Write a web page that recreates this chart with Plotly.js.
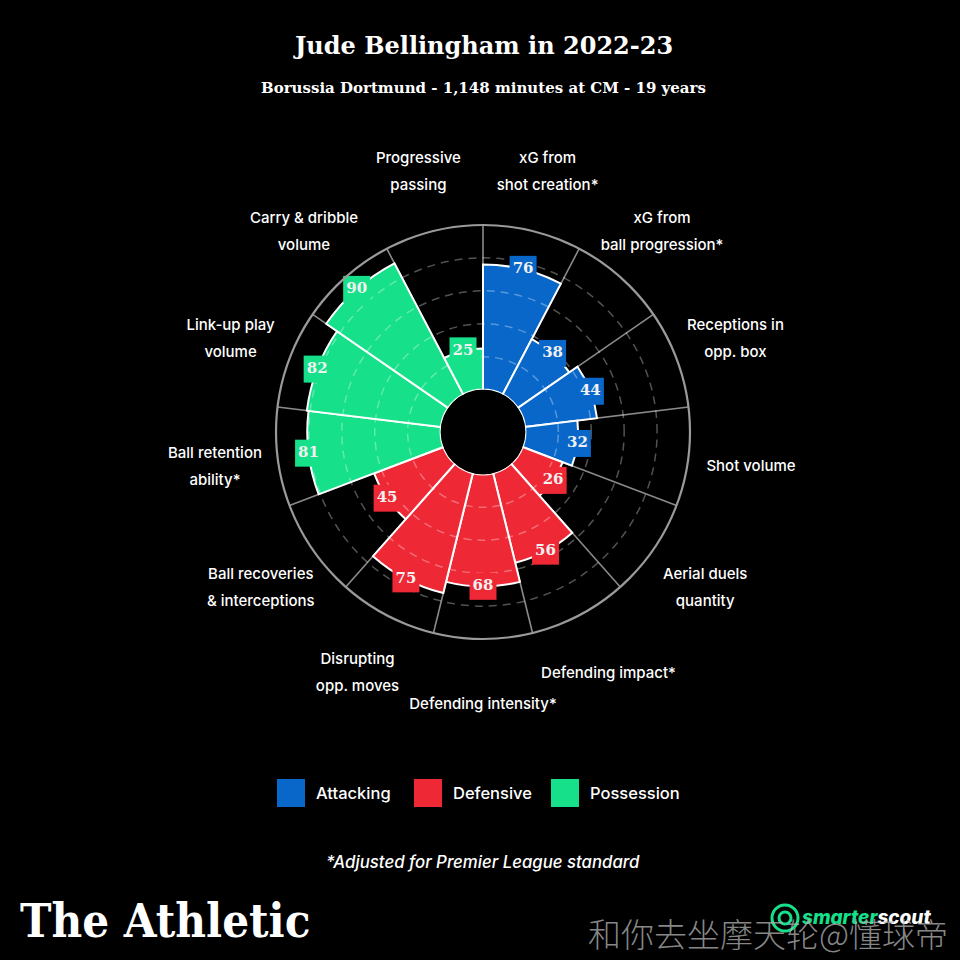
<!DOCTYPE html>
<html>
<head>
<meta charset="utf-8">
<script src="https://cdn.plot.ly/plotly-3.0.1.min.js"></script>
<style>
html,body{margin:0;padding:0;background:#000;}
#chart{width:960px;height:960px;}
</style>
</head>
<body>
<div id="chart"></div>
<script>
// ---------- data ----------
const categories = [
  "xG from shot creation*", "xG from ball progression*", "Receptions in opp. box",
  "Shot volume", "Aerial duels quantity", "Defending impact*", "Defending intensity*",
  "Disrupting opp. moves", "Ball recoveries & interceptions", "Ball retention ability*",
  "Link-up play volume", "Carry & dribble volume", "Progressive passing"
];
const labelLine1 = [
  "xG from", "xG from", "Receptions in", "Shot volume", "Aerial duels", "Defending impact*",
  "Defending intensity*", "Disrupting", "Ball recoveries", "Ball retention",
  "Link-up play", "Carry & dribble", "Progressive"
];
const labelLine2 = [
  "shot creation*", "ball progression*", "opp. box", "", "quantity", "",
  "", "opp. moves", "& interceptions", "ability*",
  "volume", "volume", "passing"
];
const values = [76, 38, 44, 32, 26, 56, 68, 75, 45, 81, 82, 90, 25];
const groups = [
  "Attacking", "Attacking", "Attacking", "Attacking",
  "Defensive", "Defensive", "Defensive", "Defensive", "Defensive",
  "Possession", "Possession", "Possession", "Possession"
];
const groupNames = ["Attacking", "Defensive", "Possession"];
const groupColors = ["#0867c9", "#ef2836", "#16e08a"];
const gridLevels = [20, 40, 60, 80];

// ---------- derived ----------
const n = categories.length;
const step = 360 / n;
const centers = categories.map((c, i) => (i + 0.5) * step);
const boundaries = categories.map((c, i) => i * step);
const colorOf = g => groupColors[groupNames.indexOf(g)];

const traces = [];
groupNames.forEach((g, gi) => {
  const idx = values.map((v, i) => i).filter(i => groups[i] === g);
  traces.push({
    type: "barpolar",
    subplot: "polar",
    name: g,
    r: idx.map(i => values[i]),
    theta: idx.map(i => centers[i]),
    width: idx.map(() => step),
    base: idx.map(() => 0),
    marker: { color: groupColors[gi], line: { color: "#ffffff", width: 2 } },
    hoverinfo: "skip",
    showlegend: false
  });
});

// value labels
traces.push({
  type: "scatterpolar",
  subplot: "polar2",
  mode: "markers+text",
  r: values,
  theta: centers,
  text: values.map(String),
  textposition: "middle center",
  textfont: { family: "DejaVu Serif", size: 15, color: "#f0f0f0", weight: 700 },
  marker: { symbol: "square", size: 27, color: groups.map(colorOf), line: { width: 0 } },
  cliponaxis: false,
  hoverinfo: "skip",
  showlegend: false
});

// category labels, on a wider label ring (polar3, radius in pixels)
const labelRing = 300;
const labelR = 270;
const twoLine = labelLine2.map(t => t !== "");
traces.push({
  type: "scatterpolar",
  subplot: "polar3",
  mode: "markers+text",
  r: categories.map(() => labelR),
  theta: centers,
  text: labelLine1,
  textposition: twoLine.map(t => t ? "top center" : "middle center"),
  textfont: { family: "Inter", size: 15, color: "#ffffff", weight: 500 },
  marker: { size: 8, color: "rgba(0,0,0,0)" },
  cliponaxis: false,
  hoverinfo: "skip",
  showlegend: false
});
traces.push({
  type: "scatterpolar",
  subplot: "polar3",
  mode: "markers+text",
  r: categories.map(() => labelR),
  theta: centers,
  text: labelLine2,
  textposition: "bottom center",
  textfont: { family: "Inter", size: 15, color: "#ffffff", weight: 500 },
  marker: { size: 8, color: "rgba(0,0,0,0)" },
  cliponaxis: false,
  hoverinfo: "skip",
  showlegend: false
});
// empty trace to draw the outer ring subplot
traces.push({ type: "scatterpolar", subplot: "polar4", r: [], theta: [], mode: "lines",
  hoverinfo: "skip", showlegend: false });

const cx = 483, cy = 432, R = 207;
const cy3 = 435;
const dom = { x: [(cx - R) / 960, (cx + R) / 960], y: [1 - (cy + R) / 960, 1 - (cy - R) / 960] };
const dom3 = { x: [(cx - labelRing) / 960, (cx + labelRing) / 960],
               y: [1 - (cy3 + labelRing) / 960, 1 - (cy3 - labelRing) / 960] };
const holeFrac = 0.205;

const py = p => 1 - p / 960;
const px = p => p / 960;

// legend (custom big squares)
const legendSquareX = [277, 414, 551];
const shapes = groupNames.map((g, i) => ({
  type: "rect", xref: "paper", yref: "paper",
  x0: px(legendSquareX[i]), x1: px(legendSquareX[i] + 28),
  y0: py(807), y1: py(779),
  fillcolor: groupColors[i], line: { width: 0 }
}));
// smarterscout icon
shapes.push({ type: "circle", xref: "paper", yref: "paper",
  x0: px(772), x1: px(798), y0: py(931), y1: py(905),
  line: { color: "#16e08a", width: 3 } });
shapes.push({ type: "circle", xref: "paper", yref: "paper",
  x0: px(779), x1: px(791), y0: py(924), y1: py(912),
  line: { color: "#16e08a", width: 3 } });

const annotations = [
  { text: "Jude Bellingham in 2022-23", x: px(483), y: py(45), xref: "paper", yref: "paper",
    showarrow: false, xanchor: "center", yanchor: "middle",
    font: { family: "DejaVu Serif", size: 24, color: "#ffffff", weight: 700 } },
  { text: "Borussia Dortmund - 1,148 minutes at CM - 19 years", x: px(483), y: py(88),
    xref: "paper", yref: "paper", showarrow: false, xanchor: "center", yanchor: "middle",
    font: { family: "DejaVu Serif", size: 15, color: "#ffffff", weight: 700 } },
  { text: "*Adjusted for Premier League standard", x: px(483), y: py(862),
    xref: "paper", yref: "paper", showarrow: false, xanchor: "center", yanchor: "middle",
    font: { family: "Inter", size: 16.8, color: "#ffffff", style: "italic", weight: 500 } },
  { text: "The Athletic", x: px(18), y: py(920), xref: "paper", yref: "paper",
    showarrow: false, xanchor: "left", yanchor: "middle",
    font: { family: "DejaVu Serif Condensed, DejaVu Serif", size: 47, color: "#ffffff", weight: 900 } },
  { text: "<span style='color:#16e08a'>smarter</span>scout", x: px(800), y: py(917),
    xref: "paper", yref: "paper", showarrow: false, xanchor: "left", yanchor: "middle",
    font: { family: "Inter", size: 19, color: "#ffffff", weight: 800, style: "italic" } }
];
groupNames.forEach((g, i) => {
  annotations.push({ text: g, x: px(legendSquareX[i] + 37), y: py(793),
    xref: "paper", yref: "paper", showarrow: false, xanchor: "left", yanchor: "middle",
    font: { family: "Inter", size: 16.5, color: "#ffffff", weight: 500 } });
});
annotations.push({ text: "和你去坐摩天轮@懂球帝", x: px(950), y: py(933),
  xref: "paper", yref: "paper", showarrow: false, xanchor: "right", yanchor: "middle",
  font: { family: "Noto Sans CJK SC", size: 33, color: "rgba(180,180,180,0.75)", weight: 300 } });

const angularCommon = { type: "linear", thetaunit: "degrees", rotation: 90, direction: "clockwise" };
const hiddenRadial = { showgrid: false, showline: false, showticklabels: false, ticks: "" };

const layout = {
  width: 960, height: 960,
  paper_bgcolor: "#000000",
  plot_bgcolor: "#000000",
  margin: { l: 0, r: 0, t: 0, b: 0 },
  showlegend: false,
  polar: {
    domain: dom,
    hole: holeFrac,
    bgcolor: "#000000",
    radialaxis: Object.assign({ range: [0, 100] }, hiddenRadial),
    angularaxis: Object.assign({}, angularCommon, {
      tickmode: "array", tickvals: boundaries, showticklabels: false, ticks: "",
      showgrid: true, gridcolor: "#8a8a8a", gridwidth: 1.6, showline: false
    })
  },
  polar2: {
    domain: dom,
    hole: holeFrac,
    bgcolor: "rgba(0,0,0,0)",
    radialaxis: { range: [0, 100], tickmode: "array", tickvals: gridLevels, showgrid: true,
      gridcolor: "rgba(255,255,255,0.32)", gridwidth: 1.5, griddash: "8px,6px",
      showline: false, showticklabels: false, ticks: "" },
    angularaxis: Object.assign({}, angularCommon, {
      showgrid: false, showline: false, showticklabels: false, ticks: ""
    })
  },
  polar3: {
    domain: dom3,
    bgcolor: "rgba(0,0,0,0)",
    radialaxis: Object.assign({ range: [0, labelRing] }, hiddenRadial),
    angularaxis: Object.assign({}, angularCommon, {
      showgrid: false, showline: false, showticklabels: false, ticks: ""
    })
  },
  polar4: {
    domain: dom,
    bgcolor: "rgba(0,0,0,0)",
    radialaxis: Object.assign({ range: [0, 100] }, hiddenRadial),
    angularaxis: Object.assign({}, angularCommon, {
      showgrid: false, showticklabels: false, ticks: "",
      showline: true, linecolor: "#9a9a9a", linewidth: 2.2
    })
  },
  shapes: shapes,
  annotations: annotations
};

Plotly.newPlot("chart", traces, layout, { displayModeBar: false, staticPlot: true });
</script>
</body>
</html>
